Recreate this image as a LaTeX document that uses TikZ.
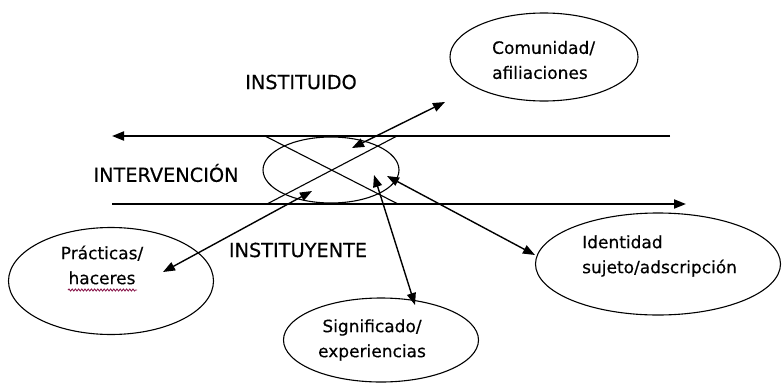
\documentclass[tikz,border=0pt]{standalone}
\usepackage{fontspec}
\setmainfont{DejaVu Sans}[FakeBold=0.35]
\usetikzlibrary{shapes.geometric,arrows.meta,decorations.pathmorphing}
\definecolor{wavyred}{RGB}{140,30,80}
\begin{document}
\begin{tikzpicture}[x=1pt,y=-1pt,
  >={Triangle[length=12pt,width=9pt]},
  oval/.style={draw,ellipse,inner sep=0pt,line width=1.1pt},
  lbl/.style={font=\fontsize{17}{25}\selectfont,inner sep=0pt},
  caplbl/.style={font=\fontsize{19.3}{23}\selectfont,inner sep=0pt},
  hline/.style={line width=1.8pt},
  xline/.style={line width=1.1pt},
  link/.style={line width=1.4pt,<->}]
\useasboundingbox (0,0) rectangle (782,383);

% ellipses
\node[oval,minimum width=136pt,minimum height=66pt] (mid) at (331,170) {};
\node[oval,minimum width=188pt,minimum height=88pt] (com) at (544,57) {};
\node[oval,minimum width=205pt,minimum height=107pt] (pra) at (111,281) {};
\node[oval,minimum width=195pt,minimum height=84pt] (sig) at (381,340) {};
\node[oval,minimum width=245pt,minimum height=102pt] (ide) at (658,264) {};

% ellipse texts
\node[lbl,align=left,anchor=west] (comt) at (492,60) {Comunidad/\\afiliaciones};
\node[lbl,align=center] (prat) at (102,265) {Prácticas/\\haceres};
\node[lbl,align=center] (sigt) at (372,340) {Significado/\\experiencias};
\node[lbl,align=left,anchor=west] (idet) at (582,256) {Identidad\\sujeto/adscripción};

% capital labels
\node[caplbl] (inst) at (301,82) {INSTITUIDO};
\node[caplbl] (inter) at (166,173) {INTERVENCIÓN};
\node[caplbl] (insty) at (298,250) {INSTITUYENTE};

% horizontal lines
\coordinate (tl) at (112,136); \coordinate (tr) at (670,136);
\coordinate (bl) at (112,204); \coordinate (br) at (686,204);
\draw[hline,->] (tr) -- (tl);
\draw[hline,->] (bl) -- (br);

% cross lines
\coordinate (x1) at (265,136); \coordinate (x2) at (398,204);
\coordinate (x3) at (267,204); \coordinate (x4) at (397,136);
\draw[xline] (x1) -- (x2);
\draw[xline] (x3) -- (x4);

% double arrows
\coordinate (a1) at (352,148); \coordinate (a2) at (445,102);
\coordinate (b1) at (312,191); \coordinate (b2) at (163,272);
\coordinate (c1) at (374,175); \coordinate (c2) at (415,305);
\coordinate (d1) at (387,176); \coordinate (d2) at (535,255);
\draw[link] (a1) -- (a2);
\draw[link] (b1) -- (b2);
\draw[link] (c1) -- (c2);
\draw[link] (d1) -- (d2);

% spell-check underline
\coordinate (w1) at (68,290); \coordinate (w2) at (137,290);
\draw[wavyred,line width=0.9pt,decorate,decoration={snake,amplitude=1pt,segment length=3.2pt}] (w1) -- (w2);
\end{tikzpicture}
\end{document}
